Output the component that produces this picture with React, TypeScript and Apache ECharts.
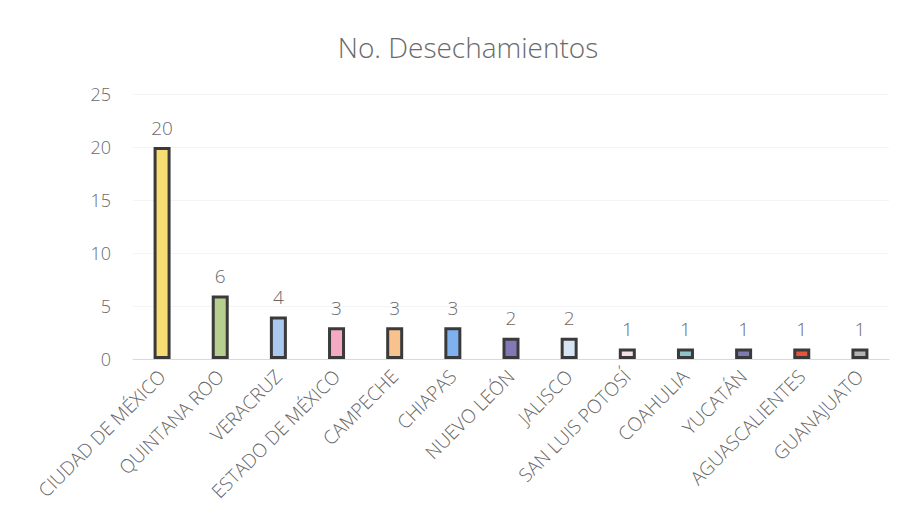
import React, { useEffect, useRef } from "react";
import * as echarts from "echarts";

const categories = [
  "CIUDAD DE MÉXICO",
  "QUINTANA ROO",
  "VERACRUZ",
  "ESTADO DE MÉXICO",
  "CAMPECHE",
  "CHIAPAS",
  "NUEVO LEÓN",
  "JALISCO",
  "SAN LUIS POTOSÍ",
  "COAHULIA",
  "YUCATÁN",
  "AGUASCALIENTES",
  "GUANAJUATO",
];
const values = [20, 6, 4, 3, 3, 3, 2, 2, 1, 1, 1, 1, 1];
const barColors = [
  "#f6dc72",
  "#b7cf8e",
  "#aac9f0",
  "#f4aac2",
  "#f8c28e",
  "#80b1ef",
  "#8079b6",
  "#d6e4f4",
  "#f3dfe5",
  "#90c2ca",
  "#7f7ab2",
  "#e4553b",
  "#b3b3b3",
];

export default function App() {
  const ref = useRef<HTMLDivElement>(null);
  useEffect(() => {
    if (!ref.current) return;
    const chart = echarts.init(ref.current, null, { renderer: "svg" });
    const font = "'Open Sans', 'Liberation Sans', sans-serif";
    chart.setOption({
      animation: false,
      backgroundColor: "#ffffff",
      title: {
        text: "No. Desechamientos",
        left: 463,
        textAlign: "center",
        top: 28,
        textStyle: {
          color: "#6a6a6a",
          fontSize: 28,
          fontWeight: 300,
          fontFamily: font,
        },
      },
      grid: { left: 133, right: 13, top: 94, bottom: 169, containLabel: false },
      xAxis: {
        type: "category",
        data: categories,
        axisTick: { show: false },
        axisLine: { lineStyle: { color: "#d9d9d9", width: 1 } },
        axisLabel: {
          rotate: 45,
          interval: 0,
          color: "#666666",
          fontSize: 19,
          fontWeight: 300,
          fontFamily: font,
          margin: 14,
        },
      },
      yAxis: {
        type: "value",
        min: 0,
        max: 25,
        interval: 5,
        axisLine: { show: false },
        axisTick: { show: false },
        splitLine: { lineStyle: { color: "#f4f4f4" } },
        axisLabel: {
          color: "#6a6a6a",
          fontSize: 18,
          fontWeight: 300,
          fontFamily: font,
          margin: 22,
        },
      },
      series: [
        {
          type: "bar",
          data: values.map((v, i) => ({
            value: v,
            itemStyle: { color: barColors[i] },
          })),
          barWidth: 17,
          itemStyle: { borderColor: "#3a3a3a", borderWidth: 3 },
          label: {
            show: true,
            position: "top",
            distance: 10,
            color: "#6a6a6a",
            fontSize: 19,
            fontWeight: 300,
            fontFamily: font,
          },
        },
      ],
    });
    return () => chart.dispose();
  }, []);
  return (
    <div
      ref={ref}
      style={{ position: "fixed", left: 0, top: 0, width: 902, height: 528 }}
    />
  );
}
